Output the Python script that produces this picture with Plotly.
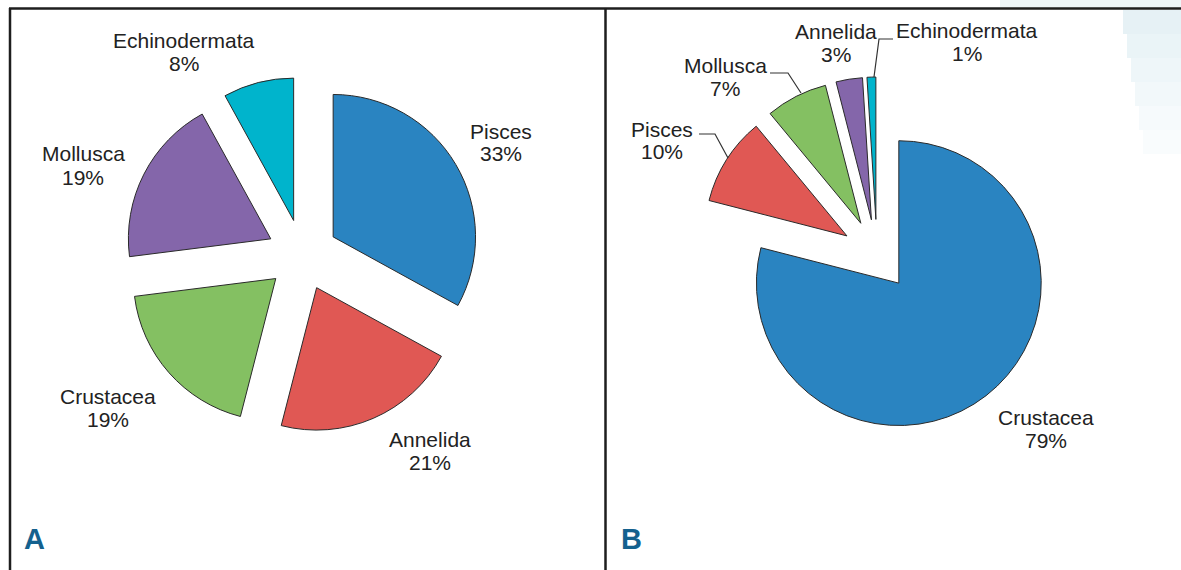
import plotly.graph_objects as go

W, H = 1181, 570

# ---- data ----
groups_a = ["Pisces", "Annelida", "Crustacea", "Mollusca", "Echinodermata"]
values_a = [33, 21, 19, 19, 8]
groups_b = ["Crustacea", "Pisces", "Mollusca", "Annelida", "Echinodermata"]
values_b = [79, 10, 7, 3, 1]
panel_letters = ["A", "B"]

slice_colors = ["#2a84c1", "#e05854", "#84c062", "#8466aa", "#00b4cc"]

# ---- layout helpers (pixel -> paper) ----
def px(x):
    return x / W

def py(y):
    return 1 - y / H

PULL = 0.25
BOX = 356  # pie box size in px


def domain(cx, cy):
    return dict(x=[px(cx - BOX / 2), px(cx + BOX / 2)],
                y=[py(cy + BOX / 2), py(cy - BOX / 2)])


fig = go.Figure()
fig.add_trace(go.Pie(
    labels=groups_a, values=values_a, sort=False, direction="clockwise", rotation=0,
    pull=[PULL] * len(values_a), textinfo="none", hoverinfo="label+percent",
    marker=dict(colors=slice_colors, line=dict(color="#2a2a2a", width=1)),
    domain=domain(302.5, 255), showlegend=False,
))
fig.add_trace(go.Pie(
    labels=groups_b, values=values_b, sort=False, direction="clockwise", rotation=0,
    pull=[PULL] * len(values_b), textinfo="none", hoverinfo="label+percent",
    marker=dict(colors=slice_colors, line=dict(color="#2a2a2a", width=1)),
    domain=domain(877, 255), showlegend=False,
))

# label positions (first-line centre, px)
label_pos_a = [(501, 131), (430, 439), (108, 396), (83, 154), (184, 40)]
label_pos_b = [(1046, 417), (662, 129), (725, 65), (836, 32), (967, 31)]
LINE_GAP = 23
FONT = "Liberation Sans, Arial, sans-serif"

annotations = []
for groups, values, poss in [(groups_a, values_a, label_pos_a), (groups_b, values_b, label_pos_b)]:
    for g, v, (x, y) in zip(groups, values, poss):
        annotations.append(dict(x=px(x), y=py(y), xref="paper", yref="paper", text=g,
                                showarrow=False, xanchor="center", yanchor="middle",
                                font=dict(family=FONT, size=21, color="#222222")))
        annotations.append(dict(x=px(x), y=py(y + LINE_GAP), xref="paper", yref="paper",
                                text=f"{v}%", showarrow=False, xanchor="center", yanchor="middle",
                                font=dict(family=FONT, size=21, color="#222222")))

for letter, x in zip(panel_letters, [34, 631]):
    annotations.append(dict(x=px(x), y=py(539), xref="paper", yref="paper", text=f"<b>{letter}</b>",
                            showarrow=False, xanchor="center", yanchor="middle",
                            font=dict(family=FONT, size=29, color="#14618e")))

shapes = []
# faint light-blue decorative patch on the top right
shapes.append(dict(type="rect", xref="paper", yref="paper", x0=px(1000), x1=1, y0=py(8), y1=1,
                   fillcolor="#eef6f8", line=dict(width=0), layer="below"))
patch_cols = ["#e6f1f5", "#eaf4f7", "#eef6f9", "#f2f8fa", "#f6fafc", "#f9fcfd"]
for i, col in enumerate(patch_cols):
    shapes.append(dict(type="rect", xref="paper", yref="paper",
                       x0=px(1123 + i * 4), x1=1, y0=py(10 + (i + 1) * 24), y1=py(10 + i * 24),
                       fillcolor=col, line=dict(width=0), layer="below"))

# frame lines
frame = dict(color="#1e1e1e", width=2.5)
shapes.append(dict(type="line", xref="paper", yref="paper", x0=px(9), x1=1, y0=py(8.5), y1=py(8.5), line=frame))
shapes.append(dict(type="line", xref="paper", yref="paper", x0=px(10), x1=px(10), y0=py(8), y1=0, line=frame))
shapes.append(dict(type="line", xref="paper", yref="paper", x0=px(605.5), x1=px(605.5), y0=py(8), y1=0, line=frame))

# leader lines for panel B
leaders = [
    [(699, 134), (715, 134), (728, 158)],   # Pisces
    [(770, 73), (788, 73), (801, 93)],      # Mollusca
    [(893, 39), (879, 39), (874, 77)],      # Echinodermata
]
for pts in leaders:
    path = "M " + " L ".join(f"{px(x)},{py(y)}" for x, y in pts)
    shapes.append(dict(type="path", xref="paper", yref="paper", path=path,
                       line=dict(color="#333333", width=1.2)))

fig.update_layout(
    width=W, height=H, margin=dict(l=0, r=0, t=0, b=0),
    paper_bgcolor="white", plot_bgcolor="white",
    annotations=annotations, shapes=shapes,
)

fig.write_html("out.html")
